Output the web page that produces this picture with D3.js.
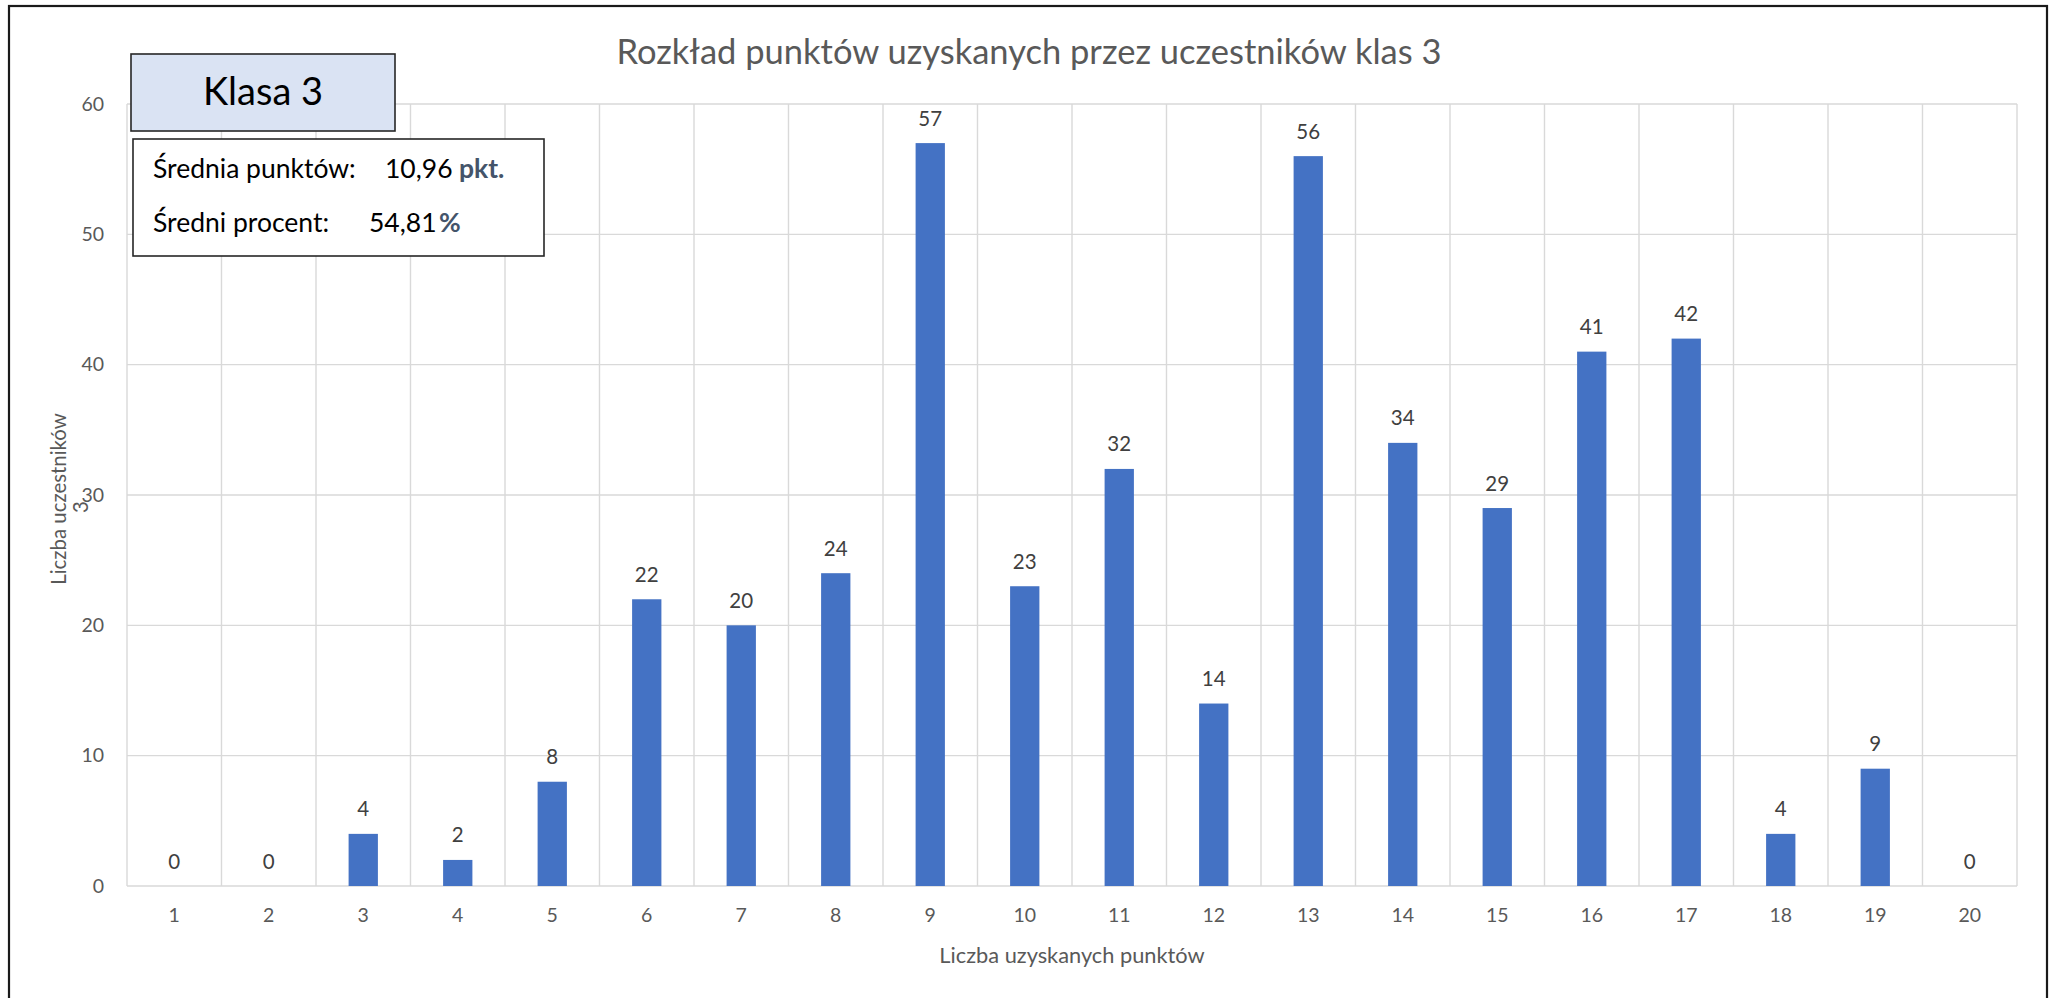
<!DOCTYPE html>
<html>
<head>
<meta charset="utf-8">
<script src="https://cdn.jsdelivr.net/npm/d3@7"></script>
<style>
  html, body { margin: 0; padding: 0; background: #fff; }
  svg { display: block; font-family: Lato, "Open Sans", sans-serif; }
</style>
</head>
<body>
<svg id="chart" width="2055" height="998"></svg>
<script>
const categories = ["1","2","3","4","5","6","7","8","9","10","11","12","13","14","15","16","17","18","19","20"];
const values = [0,0,4,2,8,22,20,24,57,23,32,14,56,34,29,41,42,4,9,0];
const yTicks = [0,10,20,30,40,50,60];
const titleText = "Rozkład punktów uzyskanych przez uczestników klas 3";
const xTitle = "Liczba uzyskanych punktów";
const yTitleLines = ["Liczba uczestników", "3"];
const classLabel = "Klasa 3";
const statRows = [
  {label: "Średnia punktów:", value: "10,96", unit: "pkt."},
  {label: "Średni procent:", value: "54,81", unit: "%"}
];

const W = 2055, H = 998;
const plot = {left: 127, right: 2017, top: 104, bottom: 886};

const svg = d3.select("#chart");
svg.append("rect").attr("width", W).attr("height", H).attr("fill", "#fff");

// outer frame
svg.append("rect")
  .attr("x", 9).attr("y", 6).attr("width", 2038).attr("height", 1010)
  .attr("fill", "#fff").attr("stroke", "#1a1a1a").attr("stroke-width", 2.2);

const x = d3.scaleBand().domain(categories).range([plot.left, plot.right])
  .paddingInner(0.69).paddingOuter(0.345);
const y = d3.scaleLinear().domain([0, 60]).range([plot.bottom, plot.top]);

const step = x.step();
const grid = svg.append("g");
grid.selectAll("line.h").data(yTicks).join("line")
  .attr("x1", plot.left).attr("x2", plot.right)
  .attr("y1", d => y(d)).attr("y2", d => y(d))
  .attr("stroke", "#d9d9d9").attr("stroke-width", 1.4);
const bounds = categories.map(c => x(c) + x.bandwidth() / 2 - step / 2);
bounds.push(x(categories[categories.length - 1]) + x.bandwidth() / 2 + step / 2);
grid.selectAll("line.v").data(bounds).join("line")
  .attr("x1", d => d).attr("x2", d => d)
  .attr("y1", y(60)).attr("y2", y(0))
  .attr("stroke", "#d9d9d9").attr("stroke-width", 1.4);

// bars
svg.append("g").selectAll("rect").data(values).join("rect")
  .attr("x", (d, i) => x(categories[i]))
  .attr("width", x.bandwidth())
  .attr("y", d => y(d))
  .attr("height", d => y(0) - y(d))
  .attr("fill", "#4472c4");

// value labels
svg.append("g").selectAll("text").data(values).join("text")
  .attr("x", (d, i) => x(categories[i]) + x.bandwidth() / 2)
  .attr("y", d => y(d) - 17.5)
  .attr("text-anchor", "middle")
  .attr("font-size", 20.5)
  .attr("fill", "#404040")
  .text(d => d);

// y axis
const yAxis = svg.append("g").attr("transform", `translate(${plot.left},0)`)
  .call(d3.axisLeft(y).tickValues(yTicks).tickSize(0).tickPadding(23));
yAxis.select(".domain").remove();
yAxis.selectAll("text").attr("font-size", 19.5).attr("fill", "#595959")
  .attr("font-family", "Lato, sans-serif");

// x axis
const xAxis = svg.append("g").attr("transform", `translate(0,${plot.bottom})`)
  .call(d3.axisBottom(x).tickSize(0).tickPadding(22));
xAxis.select(".domain").remove();
xAxis.selectAll("text").attr("font-size", 19.5).attr("fill", "#595959")
  .attr("font-family", "Lato, sans-serif");

// title
svg.append("text")
  .attr("x", 1029).attr("y", 64)
  .attr("text-anchor", "middle")
  .attr("font-size", 34.5).attr("fill", "#595959")
  .text(titleText);

// x axis title
svg.append("text")
  .attr("x", (plot.left + plot.right) / 2).attr("y", 963)
  .attr("text-anchor", "middle")
  .attr("font-size", 21.8).attr("fill", "#595959")
  .text(xTitle);

// y axis title (two lines, rotated)
const yMid = (plot.top + plot.bottom) / 2 + 4;
svg.append("text")
  .attr("transform", `translate(66,${yMid}) rotate(-90)`)
  .attr("text-anchor", "middle")
  .attr("font-size", 20.4).attr("fill", "#595959")
  .text(yTitleLines[0]);
svg.append("text")
  .attr("transform", `translate(88,${yMid + 8}) rotate(-90)`)
  .attr("text-anchor", "middle")
  .attr("font-size", 20.4).attr("fill", "#595959")
  .text(yTitleLines[1]);

// class label box
svg.append("rect")
  .attr("x", 131).attr("y", 54).attr("width", 264).attr("height", 77)
  .attr("fill", "#dae3f3").attr("stroke", "#262626").attr("stroke-width", 1.6);
svg.append("text")
  .attr("x", 263).attr("y", 105)
  .attr("text-anchor", "middle")
  .attr("font-size", 38).attr("fill", "#000")
  .text(classLabel);

// stats box
svg.append("rect")
  .attr("x", 133).attr("y", 139).attr("width", 411).attr("height", 117)
  .attr("fill", "#fff").attr("stroke", "#262626").attr("stroke-width", 1.6);
const rowY = [178, 232];
const valX = [385, 369];
const unitX = [459, 439];
statRows.forEach((r, i) => {
  const t = svg.append("text").attr("y", rowY[i]).attr("font-size", 26.5).attr("fill", "#000");
  t.append("tspan").attr("x", 153).text(r.label);
  t.append("tspan").attr("x", valX[i]).text(r.value);
  t.append("tspan").attr("x", unitX[i]).attr("fill", "#44546a").attr("font-weight", "bold").text(r.unit);
});
</script>
</body>
</html>
